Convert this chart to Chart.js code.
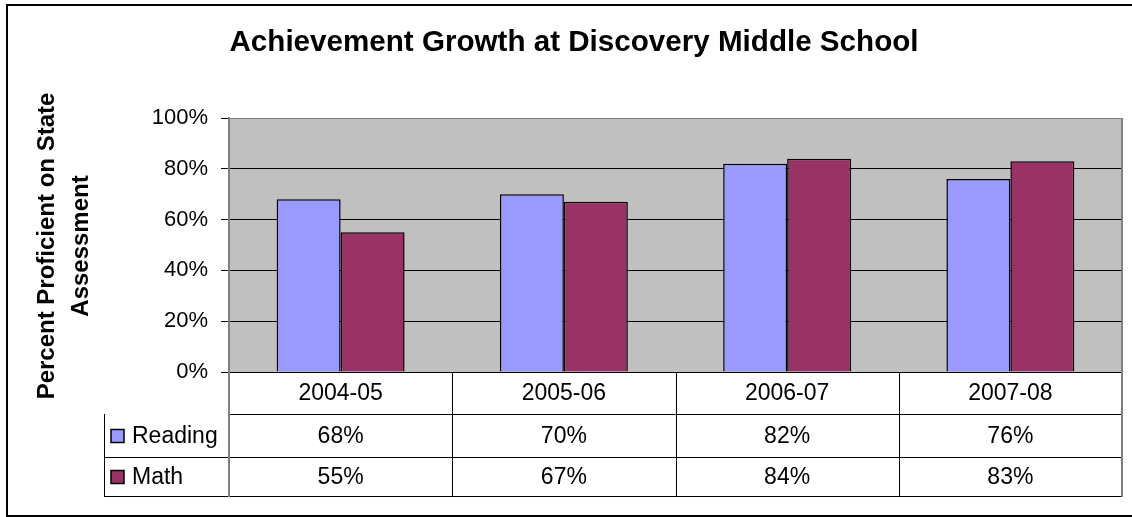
<!DOCTYPE html>
<html>
<head>
<meta charset="utf-8">
<title>Achievement Growth at Discovery Middle School</title>
<script src="https://cdn.jsdelivr.net/npm/chart.js@4/dist/chart.umd.min.js"></script>
<style>
  html, body { margin: 0; padding: 0; background: #fff; }
  canvas { display: block; }
</style>
</head>
<body>
<canvas id="growthChart" width="1132" height="517"></canvas>
<script>
const years = ['2004-05', '2005-06', '2006-07', '2007-08'];
const reading = [68, 70, 82, 76];
const math = [55, 67, 84, 83];
const yTicks = [0, 20, 40, 60, 80, 100];

const FONT = '"Liberation Sans", Arial, sans-serif';

// gray plot area, outer frame, titles and the data table under the bars
const excelFrame = {
  id: 'excelFrame',
  beforeDraw(chart) {
    const { ctx, chartArea: a } = chart;
    ctx.save();
    ctx.fillStyle = '#c0c0c0';
    ctx.fillRect(a.left, a.top, a.right - a.left, a.bottom - a.top);
    ctx.restore();
  },
  afterDraw(chart) {
    const { ctx, chartArea: a } = chart;
    const x = chart.scales.x;
    const colW = (a.right - a.left) / years.length;
    const rowBottoms = [414, 457, 496];

    ctx.save();
    // outer frame
    ctx.strokeStyle = '#000';
    ctx.lineWidth = 2;
    ctx.beginPath();
    ctx.moveTo(1140, 5); ctx.lineTo(7, 5); ctx.lineTo(7, 516); ctx.lineTo(1140, 516);
    ctx.stroke();

    // plot right edge
    ctx.strokeStyle = '#808080';
    ctx.lineWidth = 2;
    ctx.beginPath();
    ctx.moveTo(a.right, a.top); ctx.lineTo(a.right, a.bottom);
    ctx.stroke();

    // chart title
    ctx.fillStyle = '#000';
    ctx.font = 'bold 29.6px ' + FONT;
    ctx.textAlign = 'center';
    ctx.textBaseline = 'middle';
    ctx.fillText('Achievement Growth at Discovery Middle School', 574, 43);

    // y axis title, two lines
    ctx.save();
    ctx.translate(64, 246);
    ctx.rotate(-Math.PI / 2);
    ctx.font = 'bold 24px ' + FONT;
    ctx.fillText('Percent Proficient on State', 0, -17);
    ctx.fillText('Assessment', 0, 17);
    ctx.restore();

    // data table grid
    ctx.lineWidth = 1;
    ctx.strokeStyle = '#000';
    ctx.beginPath();
    rowBottoms.forEach((y, i) => {
      ctx.moveTo(i === 0 ? a.left : 104, y + 0.5);
      ctx.lineTo(a.right, y + 0.5);
    });
    ctx.moveTo(104.5, rowBottoms[0]);
    ctx.lineTo(104.5, rowBottoms[2]);
    for (let i = 1; i < years.length; i++) {
      const cx = Math.round(a.left + colW * i) + 0.5;
      ctx.moveTo(cx, a.bottom);
      ctx.lineTo(cx, rowBottoms[2]);
    }
    ctx.stroke();
    ctx.strokeStyle = '#808080';
    ctx.lineWidth = 2;
    ctx.beginPath();
    ctx.moveTo(a.left, a.bottom); ctx.lineTo(a.left, rowBottoms[2] + 1);
    ctx.moveTo(a.right, a.bottom); ctx.lineTo(a.right, rowBottoms[2] + 1);
    ctx.stroke();

    // table text
    ctx.fillStyle = '#000';
    ctx.font = '23px ' + FONT;
    ctx.textAlign = 'center';
    const rowMid = [(a.bottom + rowBottoms[0]) / 2, (rowBottoms[0] + rowBottoms[1]) / 2, (rowBottoms[1] + rowBottoms[2]) / 2];
    years.forEach((yr, i) => {
      const cx = x.getPixelForValue(i);
      ctx.fillText(yr, cx, rowMid[0] + 1);
      chart.data.datasets.forEach((ds, d) => {
        ctx.fillText(ds.data[i] + '%', cx, rowMid[d + 1] + 1);
      });
    });

    // series keys in the table
    chart.data.datasets.forEach((ds, d) => {
      const my = rowMid[d + 1];
      ctx.fillStyle = ds.backgroundColor;
      ctx.fillRect(111, my - 6, 13, 13);
      ctx.strokeStyle = '#000';
      ctx.lineWidth = 1.5;
      ctx.strokeRect(111, my - 6, 13, 13);
      ctx.fillStyle = '#000';
      ctx.textAlign = 'left';
      ctx.fillText(ds.label, 132, my + 1);
    });
    ctx.restore();
  }
};

new Chart(document.getElementById('growthChart').getContext('2d'), {
  type: 'bar',
  data: {
    labels: years,
    datasets: [
      {
        label: 'Reading',
        data: reading,
        backgroundColor: '#9999ff',
        borderColor: '#000',
        borderWidth: 1.5
      },
      {
        label: 'Math',
        data: math,
        backgroundColor: '#993366',
        borderColor: '#000',
        borderWidth: 1.5
      }
    ]
  },
  options: {
    responsive: false,
    animation: false,
    devicePixelRatio: 1,
    layout: { padding: { left: 0, top: 118, right: 10, bottom: 145 } },
    datasets: { bar: { categoryPercentage: 0.573, barPercentage: 1.0 } },
    plugins: {
      legend: { display: false },
      tooltip: { enabled: false }
    },
    scales: {
      x: { display: false },
      y: {
        min: 0,
        max: 100,
        afterFit(scale) { scale.width = 229; },
        afterBuildTicks(scale) { scale.ticks = yTicks.map(v => ({ value: v })); },
        border: { display: true, color: '#808080', width: 2 },
        grid: {
          color: ctx => (ctx.tick && ctx.tick.value === 100 ? '#808080' : '#000'),
          lineWidth: 1,
          tickLength: 8,
          tickColor: '#000'
        },
        ticks: {
          color: '#000',
          padding: 13,
          font: { family: FONT, size: 22 },
          callback: v => v + '%'
        }
      }
    }
  },
  plugins: [excelFrame]
});
</script>
</body>
</html>
